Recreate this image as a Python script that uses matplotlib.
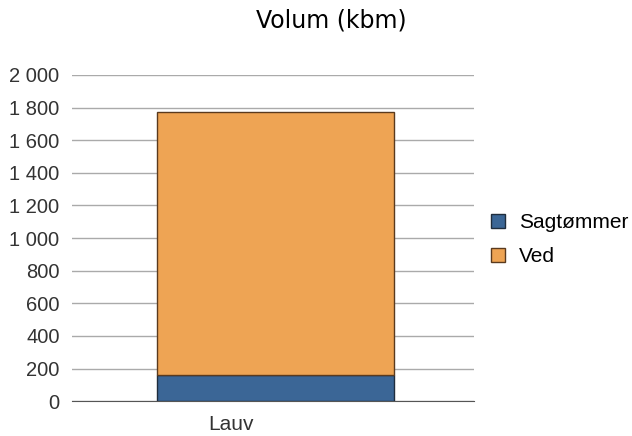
import matplotlib
matplotlib.use("Agg")
import matplotlib.pyplot as plt
from matplotlib.ticker import FuncFormatter

plt.rcParams['font.family'] = ['Liberation Sans', 'DejaVu Sans']

categories = ["Lauv"]
sagtommer = [160]
ved = [1613]
series_names = ["Sagtømmer", "Ved"]
colors = ["#3b6696", "#eea454"]
edges = ["#1f2d3d", "#5a3a1e"]

fig = plt.figure(figsize=(6.32, 4.36), dpi=100)
ax = fig.add_axes([0.114, 0.080, 0.636, 0.748])

x = list(range(len(categories)))
ax.bar(x, sagtommer, width=0.59, color=colors[0], edgecolor=edges[0], linewidth=1, label=series_names[0], zorder=3)
ax.bar(x, ved, bottom=sagtommer, width=0.59, color=colors[1], edgecolor=edges[1], linewidth=1, label=series_names[1], zorder=3)

ax.set_xlim(-0.506, 0.494)
ax.set_ylim(0, 2000)
ax.set_yticks(range(0, 2001, 200))
ax.yaxis.set_major_formatter(FuncFormatter(lambda v, p: f"{int(v):,}".replace(",", " ")))
# category label sits left of the bar centre in the original
ax.set_xticks([i - 0.11 for i in x])
ax.set_xticklabels(categories)
ax.grid(axis="y", color="#aaaaaa", linewidth=1, zorder=0)
for s in ["top", "right", "left"]:
    ax.spines[s].set_visible(False)
ax.spines["bottom"].set_color("#555555")
ax.tick_params(axis="y", length=0, labelsize=14.5, labelcolor="#333333", pad=9)
ax.tick_params(axis="x", length=0, labelsize=15, labelcolor="#333333", pad=10)

fig.suptitle("Volum (kbm)", fontsize=17, family="DejaVu Sans", x=0.524, y=0.98)

fig.legend(loc="center left", bbox_to_anchor=(0.777, 0.45), frameon=False, fontsize=15,
           borderpad=0, borderaxespad=0,
           handlelength=0.67, handleheight=0.67, labelspacing=0.72, handletextpad=0.67)

fig.savefig("out.png", dpi=100)
